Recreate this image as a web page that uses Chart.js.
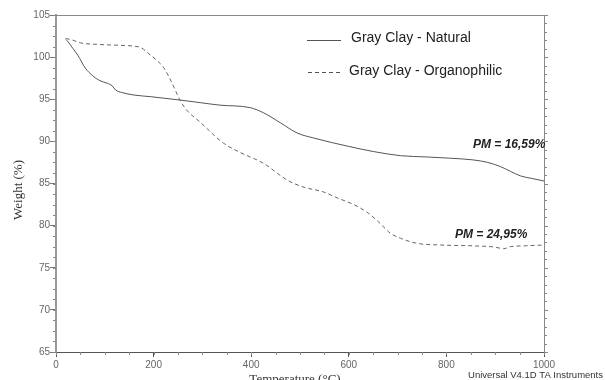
<!DOCTYPE html>
<html>
<head>
<meta charset="utf-8">
<script src="https://cdn.jsdelivr.net/npm/chart.js@4.4.1/dist/chart.umd.min.js"></script>
<style>
  body { margin: 0; background: #fff; }
  canvas { display: block; }
</style>
</head>
<body>
<canvas id="tgaChart" width="605" height="380"></canvas>
<script>
const seriesLabels = ['Gray Clay - Natural', 'Gray Clay - Organophilic'];

const tempNatural = [20, 25, 35, 45, 60, 75, 90, 105, 115, 122, 135, 160, 195, 255, 295, 336, 398, 425, 460, 494, 528, 600, 650, 706, 760, 808, 855, 885, 911, 952, 975, 1000];
const weightNatural = [102.1, 101.8, 101.0, 100.2, 98.7, 97.8, 97.2, 96.9, 96.6, 96.1, 95.8, 95.5, 95.3, 94.9, 94.6, 94.3, 94.0, 93.4, 92.2, 91.0, 90.4, 89.4, 88.8, 88.3, 88.15, 88.0, 87.8, 87.5, 87.0, 85.9, 85.6, 85.3];

const tempOrgano = [20, 30, 50, 90, 130, 160, 175, 190, 205, 220, 232, 242, 254, 268, 295, 343, 377, 425, 474, 506, 548, 576, 610, 637, 658, 672, 685, 706, 740, 788, 855, 900, 917, 931, 960, 1000];
const weightOrgano = [102.2, 102.1, 101.7, 101.5, 101.4, 101.3, 101.1, 100.4, 99.7, 98.8, 97.6, 96.4, 94.9, 93.7, 92.3, 89.8, 88.7, 87.4, 85.4, 84.6, 84.0, 83.3, 82.5, 81.6, 80.6, 79.8, 79.1, 78.5, 77.9, 77.7, 77.6, 77.45, 77.25, 77.5, 77.6, 77.7];

const pmLabels = ['PM = 16,59%', 'PM = 24,95%'];

const toPoints = (xs, ys) => xs.map((x, i) => ({ x: x, y: ys[i] }));

const decorPlugin = {
    id: 'decor',
    afterDraw(chart) {
        const { ctx, chartArea: a, scales: { x, y } } = chart;
        ctx.save();

        // top frame and right axis
        ctx.strokeStyle = '#888';
        ctx.lineWidth = 1;
        ctx.beginPath();
        ctx.moveTo(a.left, a.top + 0.5);
        ctx.lineTo(a.right, a.top + 0.5);
        ctx.moveTo(a.right + 0.5, a.top);
        ctx.lineTo(a.right + 0.5, a.bottom);
        ctx.stroke();

        ctx.beginPath();
        for (let v = 65; v <= 105; v += 1) {
            const py = Math.round(y.getPixelForValue(v)) + 0.5;
            ctx.moveTo(a.right, py);
            ctx.lineTo(a.right + (v % 5 === 0 ? 4 : 3), py);
        }
        // minor ticks on left and bottom axes
        for (let v = 65; v <= 105; v += 1.25) {
            const py = Math.round(y.getPixelForValue(v)) + 0.5;
            ctx.moveTo(a.left - 3, py);
            ctx.lineTo(a.left, py);
        }
        for (let v = 0; v <= 1000; v += 50) {
            const px = Math.round(x.getPixelForValue(v)) + 0.5;
            ctx.moveTo(px, a.bottom);
            ctx.lineTo(px, a.bottom + 3);
        }
        ctx.stroke();

        // legend
        ctx.strokeStyle = '#555';
        ctx.beginPath();
        ctx.moveTo(307, 40.5);
        ctx.lineTo(341, 40.5);
        ctx.stroke();
        ctx.setLineDash([4, 3]);
        ctx.beginPath();
        ctx.moveTo(308, 72.5);
        ctx.lineTo(340, 72.5);
        ctx.stroke();
        ctx.setLineDash([]);

        ctx.fillStyle = '#222';
        ctx.font = '14px "Liberation Sans", Arial, sans-serif';
        ctx.textBaseline = 'middle';
        ctx.textAlign = 'left';
        ctx.fillText(chart.data.datasets[0].label, 351, 38);
        ctx.fillText(chart.data.datasets[1].label, 349, 71);

        // mass-loss notes
        ctx.font = 'italic bold 12px "Liberation Sans", Arial, sans-serif';
        ctx.fillText(pmLabels[0], 473, 145);
        ctx.fillText(pmLabels[1], 455, 235);

        // axis titles
        ctx.fillStyle = '#333';
        ctx.font = '13px "Liberation Serif", "Times New Roman", serif';
        ctx.textAlign = 'center';
        ctx.textBaseline = 'alphabetic';
        ctx.fillText('Temperature (°C)', 295, 383);
        ctx.save();
        ctx.translate(22, 190);
        ctx.rotate(-Math.PI / 2);
        ctx.fillText('Weight (%)', 0, 0);
        ctx.restore();

        ctx.font = '9.5px "Liberation Sans", Arial, sans-serif';
        ctx.textAlign = 'right';
        ctx.fillText('Universal V4.1D TA Instruments', 603, 378);
        ctx.restore();
    }
};

new Chart(document.getElementById('tgaChart').getContext('2d'), {
    type: 'line',
    data: {
        datasets: [
            {
                label: seriesLabels[0],
                data: toPoints(tempNatural, weightNatural),
                borderColor: '#555',
                borderWidth: 1,
                pointRadius: 0,
                cubicInterpolationMode: 'monotone'
            },
            {
                label: seriesLabels[1],
                data: toPoints(tempOrgano, weightOrgano),
                borderColor: '#666',
                borderWidth: 1,
                borderDash: [4, 3],
                pointRadius: 0,
                cubicInterpolationMode: 'monotone'
            }
        ]
    },
    options: {
        responsive: false,
        animation: false,
        layout: { padding: { top: 15, right: 61, left: 0, bottom: 0 } },
        plugins: {
            legend: { display: false },
            tooltip: { enabled: false }
        },
        scales: {
            x: {
                type: 'linear',
                min: 0,
                max: 1000,
                afterFit: (scale) => { scale.height = 28; },
                border: { color: '#555', width: 1 },
                grid: { drawOnChartArea: false, tickLength: 5, color: '#555' },
                ticks: {
                    stepSize: 200,
                    padding: 2,
                    color: '#666',
                    font: { family: '"Liberation Sans", Arial, sans-serif', size: 10 },
                    callback: (value) => String(value)
                }
            },
            y: {
                min: 65,
                max: 105,
                afterFit: (scale) => { scale.width = 56; },
                border: { color: '#999', width: 2 },
                grid: { drawOnChartArea: false, tickLength: 6, color: '#777' },
                ticks: {
                    stepSize: 5,
                    padding: 0,
                    color: '#666',
                    font: { family: '"Liberation Sans", Arial, sans-serif', size: 10 }
                }
            }
        }
    },
    plugins: [decorPlugin]
});
</script>
</body>
</html>
